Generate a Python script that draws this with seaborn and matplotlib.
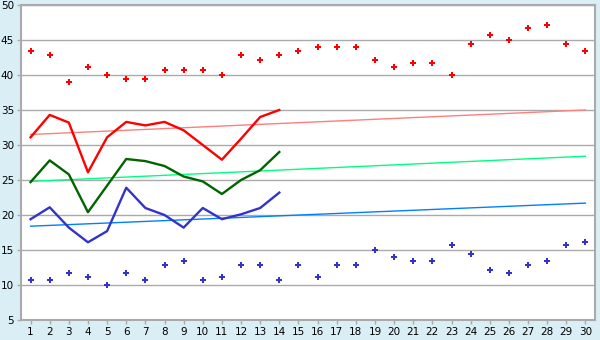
import matplotlib
matplotlib.use("Agg")
import matplotlib.pyplot as plt
import seaborn as sns
import pandas as pd
import numpy as np

days = list(range(1, 31))
line_days = list(range(1, 15))

high_dots = [43.4, 42.8, 39.0, 41.1, 40.0, 39.4, 39.4, 40.7, 40.7, 40.7,
             40.0, 42.8, 42.2, 42.8, 43.4, 44.0, 44.0, 44.0, 42.2, 41.1,
             41.7, 41.7, 40.0, 44.4, 45.7, 45.0, 46.7, 47.2, 44.4, 43.4]
low_dots = [10.7, 10.7, 11.7, 11.1, 10.0, 11.7, 10.7, 12.8, 13.4, 10.7,
            11.1, 12.8, 12.8, 10.7, 12.8, 11.1, 12.8, 12.8, 15.0, 14.0,
            13.4, 13.4, 15.7, 14.4, 12.2, 11.7, 12.8, 13.4, 15.7, 16.1]
red_line = [31.1, 34.3, 33.2, 26.1, 31.1, 33.3, 32.8, 33.3, 32.1, 30.0,
            27.9, 30.9, 34.0, 35.0]
green_line = [24.7, 27.8, 25.8, 20.4, 24.2, 28.0, 27.7, 27.0, 25.5, 24.8,
              23.0, 25.0, 26.4, 29.0]
blue_line = [19.4, 21.1, 18.2, 16.1, 17.7, 23.9, 21.0, 20.0, 18.2, 21.0,
             19.4, 20.1, 21.0, 23.2]
trend_x = [1, 30]
red_trend = [31.5, 35.0]
green_trend = [24.8, 28.4]
blue_trend = [18.4, 21.7]

bg = "#DAEEF5"
fig = plt.figure(figsize=(6, 3.4), dpi=100, facecolor=bg)
ax = fig.add_axes([21/600, 1-320/340, 574/600, 315/340])
ax.set_facecolor("white")

ax.set_ylim(5, 50)
ax.set_xlim(0.5, 30.5)
ax.set_yticks(range(5, 51, 5))
ax.set_xticks(days)
ax.yaxis.grid(True, color="#AAAAAA", linewidth=1)
ax.set_axisbelow(True)

sns.lineplot(x=trend_x, y=red_trend, ax=ax, color="#FF7F7F", linewidth=1.0)
sns.lineplot(x=trend_x, y=green_trend, ax=ax, color="#00FF80", linewidth=1.0)
sns.lineplot(x=trend_x, y=blue_trend, ax=ax, color="#0080FF", linewidth=1.0)

sns.lineplot(x=line_days, y=red_line, ax=ax, color="#FF0000", linewidth=1.7)
sns.lineplot(x=line_days, y=green_line, ax=ax, color="#006400", linewidth=1.7)
sns.lineplot(x=line_days, y=blue_line, ax=ax, color="#3333CC", linewidth=1.7)

sns.scatterplot(x=days, y=high_dots, ax=ax, color="#FF0000", marker="P",
                s=20, linewidth=0)
sns.scatterplot(x=days, y=low_dots, ax=ax, color="#3333CC", marker="P",
                s=20, linewidth=0)

for s in ax.spines.values():
    s.set_color("#AAAAAA")
    s.set_linewidth(1.5)
ax.tick_params(axis="both", colors="#AAAAAA", labelcolor="black",
               labelsize=7.5, length=3, width=1, pad=2)
ax.set_xlabel("")
ax.set_ylabel("")

fig.savefig("out.png", dpi=100, facecolor=bg)
